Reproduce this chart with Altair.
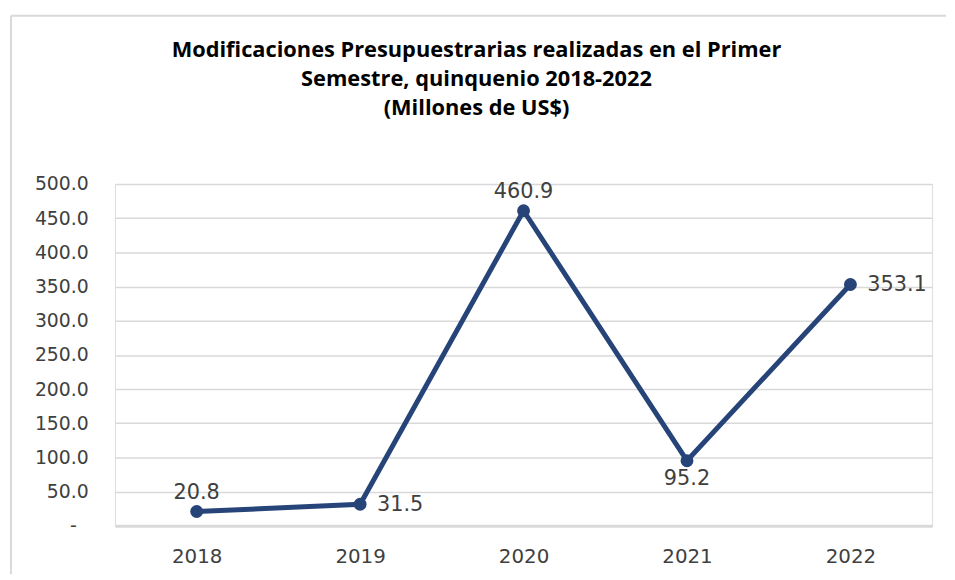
import altair as alt
import pandas as pd

years = ["2018", "2019", "2020", "2021", "2022"]
values = [20.8, 31.5, 460.9, 95.2, 353.1]
y_ticks = [0, 50, 100, 150, 200, 250, 300, 350, 400, 450, 500]
title_lines = [
    "Modificaciones Presupuestrarias realizadas en el Primer",
    "Semestre, quinquenio 2018-2022",
    "(Millones de US$)",
]

df = pd.DataFrame({"Año": years, "Valor": values})
one = pd.DataFrame({"k": [0]})

LINE = "#264478"
TXT = "#404040"
GRID = "#D9D9D9"
FONT = "DejaVu Sans"

x_enc = alt.X(
    "Año:N",
    sort=years,
    scale=alt.Scale(paddingInner=0, paddingOuter=0.5),
    axis=alt.Axis(
        title=None, labelAngle=0, labelFontSize=20, labelColor=TXT, labelFont=FONT,
        labelPadding=21, ticks=False, domain=True, domainColor=GRID, domainWidth=3,
        grid=False,
    ),
)
y_enc = alt.Y(
    "Valor:Q",
    scale=alt.Scale(domain=[0, 500]),
    axis=alt.Axis(
        title=None, values=y_ticks, labelFontSize=19, labelColor=TXT, labelFont=FONT,
        labelPadding=27, ticks=False, domain=False, grid=True, gridColor=GRID,
        gridWidth=1.5,
        labelExpr="datum.value == 0 ? '-\u00a0\u00a0\u200b' : format(datum.value, '.1f')",
    ),
)

base = alt.Chart(df).encode(x=x_enc, y=y_enc)

line = base.mark_line(color=LINE, strokeWidth=5)
pts = base.mark_point(filled=True, color=LINE, size=170, opacity=1)

lbl = dict(fontSize=21, color=TXT, font=FONT)
above = base.transform_filter(
    alt.FieldOneOfPredicate(field="Año", oneOf=["2018", "2020"])
).mark_text(baseline="bottom", dy=-9, **lbl).encode(text=alt.Text("Valor:Q", format=".1f"))
right = base.transform_filter(
    alt.FieldOneOfPredicate(field="Año", oneOf=["2019", "2022"])
).mark_text(align="left", baseline="middle", dx=17, dy=1, **lbl).encode(text=alt.Text("Valor:Q", format=".1f"))
below = base.transform_filter(
    alt.FieldOneOfPredicate(field="Año", oneOf=["2021"])
).mark_text(baseline="top", dy=8, **lbl).encode(text=alt.Text("Valor:Q", format=".1f"))

frame_top = alt.Chart(one).mark_rule(color=GRID, strokeWidth=2).encode(
    x=alt.value(-105), x2=alt.value(839), y=alt.value(-170)
)
frame_left = alt.Chart(one).mark_rule(color=GRID, strokeWidth=2).encode(
    x=alt.value(-105), y=alt.value(-170), y2=alt.value(394)
)
title = alt.Chart(one).mark_text(
    font="Open Sans", fontSize=22, fontWeight="bold", color="#000000",
    align="center", baseline="alphabetic", lineHeight=29,
).encode(x=alt.value(365), y=alt.value(-128), text=alt.value(title_lines))

chart = (
    alt.layer(frame_top, frame_left, title, line, pts, above, right, below)
    .properties(
        width=825,
        height=345,
        padding={"left": 2, "top": 4, "right": 0, "bottom": 0},
    )
    .configure_view(stroke=None)
    .configure(background="white")
)

chart.save("out.html", embed_options={"renderer": "svg", "actions": False})
